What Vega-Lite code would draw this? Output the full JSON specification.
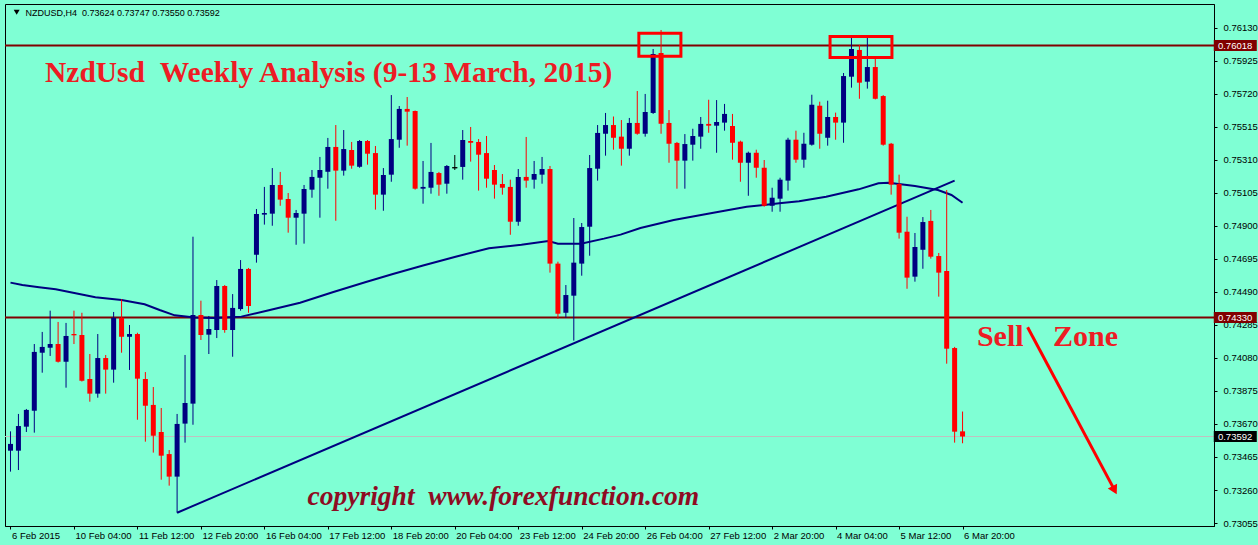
{
  "$schema": "https://vega.github.io/schema/vega-lite/v6.json",
  "width": 1209,
  "height": 522,
  "padding": {"left": 5, "top": 4, "right": 44, "bottom": 19},
  "autosize": {"type": "none"},
  "background": "#7FFFD4",
  "config": {"view": {"stroke": "#000000", "strokeWidth": 1}, "axis": {"grid": false}},
  "resolve": {"axis": {"x": "independent", "y": "independent"}},
  "datasets": {
    "candles": [
      {"i":0,"o":0.73504,"h":0.73624,"l":0.73374,"c":0.73546},
      {"i":1,"o":0.73504,"h":0.73732,"l":0.73384,"c":0.73657},
      {"i":2,"o":0.73653,"h":0.73763,"l":0.73620,"c":0.73757},
      {"i":3,"o":0.73752,"h":0.74166,"l":0.73616,"c":0.74117},
      {"i":4,"o":0.74112,"h":0.74241,"l":0.73988,"c":0.74148},
      {"i":5,"o":0.74143,"h":0.74373,"l":0.74092,"c":0.74166},
      {"i":6,"o":0.74166,"h":0.74303,"l":0.74051,"c":0.74056},
      {"i":7,"o":0.74056,"h":0.74297,"l":0.73895,"c":0.74216},
      {"i":8,"o":0.74228,"h":0.74373,"l":0.74166,"c":0.74220},
      {"i":9,"o":0.74222,"h":0.74360,"l":0.73933,"c":0.73938},
      {"i":10,"o":0.73949,"h":0.74104,"l":0.73808,"c":0.73858},
      {"i":11,"o":0.73858,"h":0.74228,"l":0.73833,"c":0.74079},
      {"i":12,"o":0.74079,"h":0.74098,"l":0.73858,"c":0.74007},
      {"i":13,"o":0.74007,"h":0.74365,"l":0.73926,"c":0.74329},
      {"i":14,"o":0.74329,"h":0.74444,"l":0.74112,"c":0.74211},
      {"i":15,"o":0.74211,"h":0.74284,"l":0.74005,"c":0.74228},
      {"i":16,"o":0.74228,"h":0.74236,"l":0.73696,"c":0.73951},
      {"i":17,"o":0.73949,"h":0.73992,"l":0.73560,"c":0.73783},
      {"i":18,"o":0.73788,"h":0.73899,"l":0.73492,"c":0.73597},
      {"i":19,"o":0.73620,"h":0.73769,"l":0.73324,"c":0.73473},
      {"i":20,"o":0.73483,"h":0.73508,"l":0.73287,"c":0.73343},
      {"i":21,"o":0.73343,"h":0.73732,"l":0.73119,"c":0.73670},
      {"i":22,"o":0.73672,"h":0.74098,"l":0.73554,"c":0.73800},
      {"i":23,"o":0.73796,"h":0.74832,"l":0.73665,"c":0.74346},
      {"i":24,"o":0.74346,"h":0.74435,"l":0.74191,"c":0.74222},
      {"i":25,"o":0.74224,"h":0.74340,"l":0.74104,"c":0.74259},
      {"i":26,"o":0.74253,"h":0.74563,"l":0.74203,"c":0.74526},
      {"i":27,"o":0.74526,"h":0.74532,"l":0.74236,"c":0.74253},
      {"i":28,"o":0.74253,"h":0.74476,"l":0.74087,"c":0.74390},
      {"i":29,"o":0.74383,"h":0.74687,"l":0.74373,"c":0.74632},
      {"i":30,"o":0.74632,"h":0.74638,"l":0.74360,"c":0.74402},
      {"i":31,"o":0.74720,"h":0.75004,"l":0.74671,"c":0.74973},
      {"i":32,"o":0.74969,"h":0.75141,"l":0.74907,"c":0.74979},
      {"i":33,"o":0.74975,"h":0.75258,"l":0.74900,"c":0.75153},
      {"i":34,"o":0.75153,"h":0.75234,"l":0.75024,"c":0.75062},
      {"i":35,"o":0.75066,"h":0.75103,"l":0.74857,"c":0.74950},
      {"i":36,"o":0.74950,"h":0.74998,"l":0.74782,"c":0.74979},
      {"i":37,"o":0.74975,"h":0.75153,"l":0.74789,"c":0.75128},
      {"i":38,"o":0.75124,"h":0.75246,"l":0.75074,"c":0.75203},
      {"i":39,"o":0.75198,"h":0.75327,"l":0.74950,"c":0.75246},
      {"i":40,"o":0.75235,"h":0.75445,"l":0.75130,"c":0.75389},
      {"i":41,"o":0.75389,"h":0.75525,"l":0.74931,"c":0.75242},
      {"i":42,"o":0.75242,"h":0.75494,"l":0.75211,"c":0.75376},
      {"i":43,"o":0.75370,"h":0.75420,"l":0.75254,"c":0.75273},
      {"i":44,"o":0.75266,"h":0.75432,"l":0.75260,"c":0.75426},
      {"i":45,"o":0.75426,"h":0.75432,"l":0.75279,"c":0.75347},
      {"i":46,"o":0.75351,"h":0.75395,"l":0.75000,"c":0.75093},
      {"i":47,"o":0.75093,"h":0.75258,"l":0.74993,"c":0.75215},
      {"i":48,"o":0.75217,"h":0.75711,"l":0.75173,"c":0.75438},
      {"i":49,"o":0.75434,"h":0.75643,"l":0.75384,"c":0.75625},
      {"i":50,"o":0.75625,"h":0.75699,"l":0.75397,"c":0.75608},
      {"i":51,"o":0.75612,"h":0.75615,"l":0.75124,"c":0.75130},
      {"i":52,"o":0.75130,"h":0.75302,"l":0.75037,"c":0.75141},
      {"i":53,"o":0.75136,"h":0.75414,"l":0.75099,"c":0.75234},
      {"i":54,"o":0.75227,"h":0.75234,"l":0.75086,"c":0.75155},
      {"i":55,"o":0.75161,"h":0.75277,"l":0.75099,"c":0.75271},
      {"i":56,"o":0.75260,"h":0.75339,"l":0.75246,"c":0.75260},
      {"i":57,"o":0.75265,"h":0.75494,"l":0.75186,"c":0.75432},
      {"i":58,"o":0.75426,"h":0.75513,"l":0.75298,"c":0.75415},
      {"i":59,"o":0.75420,"h":0.75438,"l":0.75118,"c":0.75341},
      {"i":60,"o":0.75351,"h":0.75457,"l":0.75136,"c":0.75192},
      {"i":61,"o":0.75246,"h":0.75277,"l":0.75068,"c":0.75155},
      {"i":62,"o":0.75159,"h":0.75221,"l":0.75093,"c":0.75136},
      {"i":63,"o":0.75141,"h":0.75186,"l":0.74844,"c":0.74925},
      {"i":64,"o":0.74925,"h":0.75252,"l":0.74900,"c":0.75203},
      {"i":65,"o":0.75203,"h":0.75451,"l":0.75136,"c":0.75180},
      {"i":66,"o":0.75186,"h":0.75302,"l":0.75130,"c":0.75221},
      {"i":67,"o":0.75217,"h":0.75327,"l":0.75161,"c":0.75252},
      {"i":68,"o":0.75252,"h":0.75271,"l":0.74609,"c":0.74665},
      {"i":69,"o":0.74665,"h":0.74677,"l":0.74323,"c":0.74354},
      {"i":70,"o":0.74360,"h":0.74532,"l":0.74329,"c":0.74470},
      {"i":71,"o":0.74466,"h":0.74948,"l":0.74187,"c":0.74671},
      {"i":72,"o":0.74665,"h":0.74917,"l":0.74590,"c":0.74892},
      {"i":73,"o":0.74894,"h":0.75339,"l":0.74714,"c":0.75258},
      {"i":74,"o":0.75254,"h":0.75525,"l":0.75180,"c":0.75476},
      {"i":75,"o":0.75471,"h":0.75600,"l":0.75335,"c":0.75525},
      {"i":76,"o":0.75525,"h":0.75578,"l":0.75372,"c":0.75446},
      {"i":77,"o":0.75453,"h":0.75556,"l":0.75273,"c":0.75378},
      {"i":78,"o":0.75378,"h":0.75569,"l":0.75335,"c":0.75538},
      {"i":79,"o":0.75538,"h":0.75736,"l":0.75465,"c":0.75471},
      {"i":80,"o":0.75471,"h":0.75718,"l":0.75453,"c":0.75606},
      {"i":81,"o":0.75600,"h":0.75997,"l":0.75594,"c":0.75966},
      {"i":82,"o":0.75972,"h":0.76115,"l":0.75471,"c":0.75533},
      {"i":83,"o":0.75538,"h":0.75618,"l":0.75291,"c":0.75409},
      {"i":84,"o":0.75414,"h":0.75420,"l":0.75130,"c":0.75304},
      {"i":85,"o":0.75304,"h":0.75469,"l":0.75130,"c":0.75407},
      {"i":86,"o":0.75403,"h":0.75502,"l":0.75304,"c":0.75457},
      {"i":87,"o":0.75453,"h":0.75575,"l":0.75378,"c":0.75532},
      {"i":88,"o":0.75532,"h":0.75682,"l":0.75477,"c":0.75521},
      {"i":89,"o":0.75521,"h":0.75680,"l":0.75353,"c":0.75544},
      {"i":90,"o":0.75540,"h":0.75656,"l":0.75490,"c":0.75594},
      {"i":91,"o":0.75519,"h":0.75594,"l":0.75310,"c":0.75415},
      {"i":92,"o":0.75422,"h":0.75428,"l":0.75173,"c":0.75291},
      {"i":93,"o":0.75291,"h":0.75360,"l":0.75086,"c":0.75353},
      {"i":94,"o":0.75353,"h":0.75372,"l":0.75198,"c":0.75260},
      {"i":95,"o":0.75260,"h":0.75308,"l":0.75018,"c":0.75024},
      {"i":96,"o":0.75024,"h":0.75136,"l":0.74987,"c":0.75074},
      {"i":97,"o":0.75068,"h":0.75198,"l":0.74987,"c":0.75186},
      {"i":98,"o":0.75180,"h":0.75446,"l":0.75118,"c":0.75434},
      {"i":99,"o":0.75434,"h":0.75490,"l":0.75291,"c":0.75310},
      {"i":100,"o":0.75310,"h":0.75477,"l":0.75260,"c":0.75409},
      {"i":101,"o":0.75403,"h":0.75713,"l":0.75397,"c":0.75651},
      {"i":102,"o":0.75645,"h":0.75670,"l":0.75378,"c":0.75471},
      {"i":103,"o":0.75446,"h":0.75676,"l":0.75397,"c":0.75575},
      {"i":104,"o":0.75575,"h":0.75602,"l":0.75434,"c":0.75540},
      {"i":105,"o":0.75540,"h":0.75848,"l":0.75415,"c":0.75829},
      {"i":106,"o":0.75825,"h":0.76065,"l":0.75757,"c":0.75997},
      {"i":107,"o":0.75991,"h":0.76022,"l":0.75688,"c":0.75788},
      {"i":108,"o":0.75794,"h":0.76071,"l":0.75751,"c":0.75885},
      {"i":109,"o":0.75885,"h":0.75935,"l":0.75684,"c":0.75688},
      {"i":110,"o":0.75705,"h":0.75711,"l":0.75397,"c":0.75403},
      {"i":111,"o":0.75409,"h":0.75414,"l":0.75093,"c":0.75155},
      {"i":112,"o":0.75159,"h":0.75217,"l":0.74820,"c":0.74857},
      {"i":113,"o":0.74863,"h":0.74956,"l":0.74509,"c":0.74578},
      {"i":114,"o":0.74584,"h":0.74855,"l":0.74553,"c":0.74768},
      {"i":115,"o":0.74751,"h":0.74954,"l":0.74633,"c":0.74923},
      {"i":116,"o":0.74930,"h":0.74998,"l":0.74696,"c":0.74708},
      {"i":117,"o":0.74712,"h":0.74731,"l":0.74460,"c":0.74609},
      {"i":118,"o":0.74619,"h":0.75122,"l":0.74044,"c":0.74137},
      {"i":119,"o":0.74141,"h":0.74148,"l":0.73554,"c":0.73622},
      {"i":120,"o":0.73624,"h":0.73747,"l":0.73550,"c":0.73592}
    ],
    "ma": [
      {"i":0,"v":0.74547},{"i":1.5,"v":0.74532},{"i":3.6,"v":0.74518},{"i":5.7,"v":0.74506},
      {"i":8.2,"v":0.74481},{"i":10.7,"v":0.74456},{"i":14,"v":0.74439},{"i":16.9,"v":0.74413},
      {"i":18.8,"v":0.74377},{"i":20.7,"v":0.74344},{"i":23.2,"v":0.74331},{"i":25.7,"v":0.74328},
      {"i":29.1,"v":0.74336},{"i":32.3,"v":0.74373},{"i":36.5,"v":0.74422},{"i":40.7,"v":0.74489},
      {"i":44.8,"v":0.74551},{"i":48.2,"v":0.74601},{"i":52,"v":0.74653},{"i":56.1,"v":0.74708},
      {"i":60.3,"v":0.74760},{"i":64.4,"v":0.74782},{"i":67.8,"v":0.74805},{"i":69,"v":0.74789},
      {"i":71.9,"v":0.74789},{"i":74.8,"v":0.74820},{"i":76.9,"v":0.74845},{"i":79.4,"v":0.74886},
      {"i":83.6,"v":0.74936},{"i":88.6,"v":0.74981},{"i":92.8,"v":0.75018},{"i":96.9,"v":0.75039},
      {"i":99.4,"v":0.75052},{"i":102.8,"v":0.75080},{"i":106.9,"v":0.75126},{"i":109.4,"v":0.75164},
      {"i":110.7,"v":0.75167},{"i":114,"v":0.75147},{"i":116.9,"v":0.75122},{"i":118.6,"v":0.75091},
      {"i":120,"v":0.75043}
    ],
    "trend": [{"i":21,"v":0.73119},{"i":119,"v":0.75180}],
    "levels": [{"p":0.76018},{"p":0.74330}],
    "bid": [{"p":0.73592}],
    "boxes": [
      {"i1":79.2,"i2":84.5,"p1":0.76095,"p2":0.75952},
      {"i1":103.3,"i2":111.1,"p1":0.76074,"p2":0.75944}
    ],
    "arrow": [{"i":128.2,"v":0.74270},{"i":139.16,"v":0.73259}],
    "tags": [{"p":0.76018,"kind":"level"},{"p":0.74330,"kind":"level"},{"p":0.73592,"kind":"bid"}],
    "one": [{}]
  },
  "layer": [
    {
      "data": {"name": "bid"},
      "mark": {"type": "rule", "color": "#C0C0C0", "strokeWidth": 1},
      "encoding": {
        "y": {"field": "p", "type": "quantitative", "scale": {"domain": [0.730366, 0.762762], "nice": false, "zero": false}, "axis": null}
      }
    },
    {
      "data": {"name": "levels"},
      "mark": {"type": "rule", "color": "#800000", "strokeWidth": 2},
      "encoding": {
        "y": {"field": "p", "type": "quantitative", "scale": {"domain": [0.730366, 0.762762], "nice": false, "zero": false}, "axis": null}
      }
    },
    {
      "data": {"name": "ma"},
      "mark": {"type": "line", "color": "#000080", "strokeWidth": 2, "clip": true},
      "encoding": {
        "x": {"field": "i", "type": "quantitative", "scale": {"domain": [-0.0625, 151.0625], "nice": false, "zero": false}, "axis": null},
        "y": {"field": "v", "type": "quantitative", "scale": {"domain": [0.730366, 0.762762], "nice": false, "zero": false}, "axis": null}
      }
    },
    {
      "data": {"name": "trend"},
      "mark": {"type": "line", "color": "#000080", "strokeWidth": 2, "clip": true},
      "encoding": {
        "x": {"field": "i", "type": "quantitative", "scale": {"domain": [-0.0625, 151.0625], "nice": false, "zero": false}, "axis": null},
        "y": {"field": "v", "type": "quantitative", "scale": {"domain": [0.730366, 0.762762], "nice": false, "zero": false}, "axis": null}
      }
    },
    {
      "data": {"name": "candles"},
      "mark": {"type": "rule", "strokeWidth": 1, "clip": true},
      "encoding": {
        "x": {
          "field": "i", "type": "quantitative",
          "scale": {"domain": [-0.0625, 151.0625], "nice": false, "zero": false},
          "axis": {
            "title": null, "grid": false,
            "values": [0, 8, 16, 24, 32, 40, 48, 56, 64, 72, 80, 88, 96, 104, 112, 120],
            "labelExpr": "['6 Feb 2015','10 Feb 04:00','11 Feb 12:00','12 Feb 20:00','16 Feb 04:00','17 Feb 12:00','18 Feb 20:00','20 Feb 04:00','23 Feb 12:00','24 Feb 20:00','26 Feb 04:00','27 Feb 12:00','2 Mar 20:00','4 Mar 04:00','5 Mar 12:00','6 Mar 20:00'][round(datum.value/8)]",
            "labelAlign": "left", "labelOffset": 1, "labelPadding": 1, "labelBaseline": "top",
            "labelFont": "Liberation Sans", "labelFontSize": 9.5, "labelColor": "#000000",
            "labelFlush": false, "labelOverlap": false, "labelBound": false,
            "domainColor": "#000000", "tickColor": "#000000", "tickSize": 3
          }
        },
        "y": {
          "field": "l", "type": "quantitative",
          "scale": {"domain": [0.730366, 0.762762], "nice": false, "zero": false},
          "axis": {
            "orient": "right", "title": null, "grid": false,
            "values": [0.7613, 0.75925, 0.7572, 0.75515, 0.7531, 0.75105, 0.749, 0.74695, 0.7449, 0.74285, 0.7408, 0.73875, 0.7367, 0.73465, 0.7326, 0.73055],
            "format": ".5f",
            "labelFont": "Liberation Sans", "labelFontSize": 9.5, "labelColor": "#000000",
            "labelPadding": 6, "labelFlush": false, "labelOverlap": false, "labelBound": false,
            "domainColor": "#000000", "tickColor": "#000000", "tickSize": 3
          }
        },
        "y2": {"field": "h"},
        "color": {"condition": [{"test": "datum.c > datum.o", "value": "#000080"}, {"test": "datum.c < datum.o", "value": "#FF0000"}], "value": "#000000"}
      }
    },
    {
      "data": {"name": "candles"},
      "mark": {"type": "bar", "size": 5, "clip": true},
      "encoding": {
        "x": {"field": "i", "type": "quantitative", "scale": {"domain": [-0.0625, 151.0625], "nice": false, "zero": false}, "axis": null},
        "y": {"field": "o", "type": "quantitative", "scale": {"domain": [0.730366, 0.762762], "nice": false, "zero": false}, "axis": null},
        "y2": {"field": "c"},
        "color": {"condition": [{"test": "datum.c > datum.o", "value": "#000080"}, {"test": "datum.c < datum.o", "value": "#FF0000"}], "value": "#000000"},
        "stroke": {"value": "#000000"},
        "strokeWidth": {"condition": {"test": "datum.c == datum.o", "value": 1}, "value": 0}
      }
    },
    {
      "data": {"name": "boxes"},
      "mark": {"type": "rect", "filled": false, "stroke": "#FF0000", "strokeWidth": 3},
      "encoding": {
        "x": {"field": "i1", "type": "quantitative", "scale": {"domain": [-0.0625, 151.0625], "nice": false, "zero": false}, "axis": null},
        "x2": {"field": "i2"},
        "y": {"field": "p1", "type": "quantitative", "scale": {"domain": [0.730366, 0.762762], "nice": false, "zero": false}, "axis": null},
        "y2": {"field": "p2"}
      }
    },
    {
      "data": {"name": "one"},
      "mark": {"type": "text", "text": "NzdUsd\u00a0\u00a0Weekly Analysis (9-13 March, 2015)", "align": "left", "baseline": "alphabetic", "font": "Liberation Serif", "fontSize": 29.5, "fontWeight": "bold", "color": "#ED1C24"},
      "encoding": {
        "x": {"datum": 4.35, "type": "quantitative", "scale": {"domain": [-0.0625, 151.0625], "nice": false, "zero": false}, "axis": null},
        "y": {"datum": 0.75794, "type": "quantitative", "scale": {"domain": [0.730366, 0.762762], "nice": false, "zero": false}, "axis": null}
      }
    },
    {
      "data": {"name": "one"},
      "mark": {"type": "text", "text": "copyright\u00a0\u00a0www.forexfunction.com", "align": "left", "baseline": "alphabetic", "font": "Liberation Serif", "fontSize": 27.5, "fontWeight": "bold", "fontStyle": "italic", "color": "#8E0B22"},
      "encoding": {
        "x": {"datum": 37.45, "type": "quantitative", "scale": {"domain": [-0.0625, 151.0625], "nice": false, "zero": false}, "axis": null},
        "y": {"datum": 0.73165, "type": "quantitative", "scale": {"domain": [0.730366, 0.762762], "nice": false, "zero": false}, "axis": null}
      }
    },
    {
      "data": {"name": "one"},
      "mark": {"type": "text", "text": "Sell", "align": "left", "baseline": "alphabetic", "font": "Liberation Serif", "fontSize": 30, "fontWeight": "bold", "color": "#ED1C24"},
      "encoding": {
        "x": {"datum": 121.81, "type": "quantitative", "scale": {"domain": [-0.0625, 151.0625], "nice": false, "zero": false}, "axis": null},
        "y": {"datum": 0.74156, "type": "quantitative", "scale": {"domain": [0.730366, 0.762762], "nice": false, "zero": false}, "axis": null}
      }
    },
    {
      "data": {"name": "one"},
      "mark": {"type": "text", "text": "Zone", "align": "left", "baseline": "alphabetic", "font": "Liberation Serif", "fontSize": 30, "fontWeight": "bold", "color": "#ED1C24"},
      "encoding": {
        "x": {"datum": 131.4, "type": "quantitative", "scale": {"domain": [-0.0625, 151.0625], "nice": false, "zero": false}, "axis": null},
        "y": {"datum": 0.74156, "type": "quantitative", "scale": {"domain": [0.730366, 0.762762], "nice": false, "zero": false}, "axis": null}
      }
    },
    {
      "data": {"name": "one"},
      "mark": {"type": "text", "text": "NZDUSD,H4\u00a0\u00a00.73624 0.73747 0.73550 0.73592", "align": "left", "baseline": "middle", "font": "Liberation Sans", "fontSize": 9, "color": "#000000"},
      "encoding": {
        "x": {"datum": 1.9, "type": "quantitative", "scale": {"domain": [-0.0625, 151.0625], "nice": false, "zero": false}, "axis": null},
        "y": {"datum": 0.76222, "type": "quantitative", "scale": {"domain": [0.730366, 0.762762], "nice": false, "zero": false}, "axis": null}
      }
    },
    {
      "data": {"name": "one"},
      "mark": {"type": "point", "shape": "triangle-down", "filled": true, "size": 35, "color": "#000000", "opacity": 1},
      "encoding": {
        "x": {"datum": 0.78, "type": "quantitative", "scale": {"domain": [-0.0625, 151.0625], "nice": false, "zero": false}, "axis": null},
        "y": {"datum": 0.76225, "type": "quantitative", "scale": {"domain": [0.730366, 0.762762], "nice": false, "zero": false}, "axis": null}
      }
    },
    {
      "data": {"name": "arrow"},
      "mark": {"type": "line", "color": "#FF0000", "strokeWidth": 3},
      "encoding": {
        "x": {"field": "i", "type": "quantitative", "scale": {"domain": [-0.0625, 151.0625], "nice": false, "zero": false}, "axis": null},
        "y": {"field": "v", "type": "quantitative", "scale": {"domain": [0.730366, 0.762762], "nice": false, "zero": false}, "axis": null}
      }
    },
    {
      "data": {"name": "one"},
      "mark": {"type": "point", "shape": "triangle-down", "filled": true, "size": 110, "angle": 332, "color": "#FF0000", "opacity": 1},
      "encoding": {
        "x": {"datum": 139.16, "type": "quantitative", "scale": {"domain": [-0.0625, 151.0625], "nice": false, "zero": false}, "axis": null},
        "y": {"datum": 0.73259, "type": "quantitative", "scale": {"domain": [0.730366, 0.762762], "nice": false, "zero": false}, "axis": null}
      }
    },
    {
      "data": {"name": "tags"},
      "mark": {"type": "point", "shape": "M-1,-0.256H1V0.256H-1Z", "filled": true, "size": 1849, "opacity": 1},
      "encoding": {
        "x": {"datum": 154.375, "type": "quantitative", "scale": {"domain": [-0.0625, 151.0625], "nice": false, "zero": false}, "axis": null},
        "y": {"field": "p", "type": "quantitative", "scale": {"domain": [0.730366, 0.762762], "nice": false, "zero": false}, "axis": null},
        "color": {"field": "kind", "type": "nominal", "scale": {"domain": ["level", "bid"], "range": ["#800000", "#000000"]}, "legend": null}
      }
    },
    {
      "data": {"name": "tags"},
      "mark": {"type": "text", "align": "left", "baseline": "middle", "font": "Liberation Sans", "fontSize": 9.5, "color": "#FFFFFF"},
      "encoding": {
        "x": {"datum": 152.19, "type": "quantitative", "scale": {"domain": [-0.0625, 151.0625], "nice": false, "zero": false}, "axis": null},
        "y": {"field": "p", "type": "quantitative", "scale": {"domain": [0.730366, 0.762762], "nice": false, "zero": false}, "axis": null},
        "text": {"field": "p", "type": "quantitative", "format": ".5f"}
      }
    }
  ]
}
